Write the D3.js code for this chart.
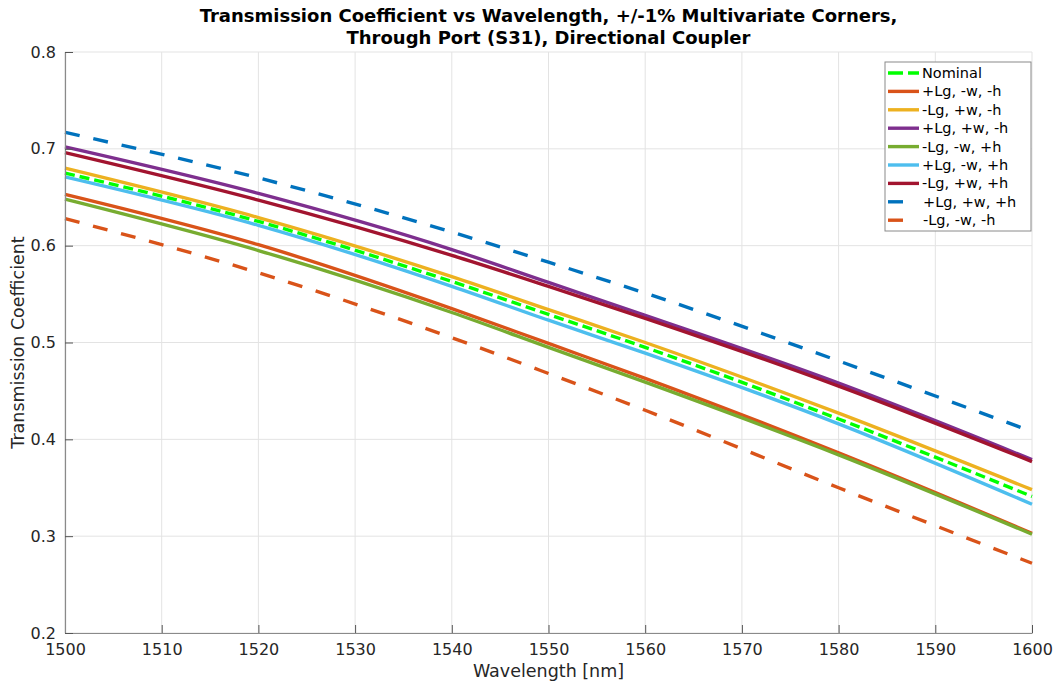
<!DOCTYPE html>
<html>
<head>
<meta charset="utf-8">
<title></title>
<script src="https://d3js.org/d3.v7.min.js"></script>
<style>
body { margin: 0; background: #fff; }
svg, svg text { font-family: "DejaVu Sans", sans-serif; }
</style>
</head>
<body>
<div id="chart"></div>
<script>
const wavelengths = [1500, 1520, 1540, 1550, 1560, 1580, 1600];
const xTicks = [1500, 1510, 1520, 1530, 1540, 1550, 1560, 1570, 1580, 1590, 1600];
const yTicks = [0.2, 0.3, 0.4, 0.5, 0.6, 0.7, 0.8];

const nominal   = [0.675, 0.625, 0.563, 0.529, 0.495, 0.421, 0.341];
const pLmWmH    = [0.653, 0.601, 0.535, 0.499, 0.463, 0.386, 0.303];
const mLpWmH    = [0.680, 0.629, 0.568, 0.534, 0.500, 0.427, 0.348];
const pLpWmH    = [0.702, 0.654, 0.596, 0.562, 0.528, 0.458, 0.379];
const mLmWpH    = [0.648, 0.595, 0.531, 0.495, 0.459, 0.384, 0.302];
const pLmWpH    = [0.671, 0.621, 0.558, 0.523, 0.489, 0.416, 0.333];
const mLpWpH    = [0.696, 0.647, 0.590, 0.558, 0.525, 0.455, 0.377];
const pLpWpH    = [0.717, 0.670, 0.614, 0.583, 0.551, 0.481, 0.408];
const mLmWmH    = [0.628, 0.572, 0.505, 0.468, 0.430, 0.350, 0.272];

const series = [
  { name: 'Nominal',       values: nominal, color: '#00ff00', dash: '10,5', short: false },
  { name: '+Lg, -w, -h',   values: pLmWmH,  color: '#D95319', dash: null,   short: false },
  { name: '-Lg, +w, -h',   values: mLpWmH,  color: '#EDB120', dash: null,   short: false },
  { name: '+Lg, +w, -h',   values: pLpWmH,  color: '#7E2F8E', dash: null,   short: false },
  { name: '-Lg, -w, +h',   values: mLmWpH,  color: '#77AC30', dash: null,   short: false },
  { name: '+Lg, -w, +h',   values: pLmWpH,  color: '#4DBEEE', dash: null,   short: false },
  { name: '-Lg, +w, +h',   values: mLpWpH,  color: '#A2142F', dash: null,   short: false },
  { name: '+Lg, +w, +h',   values: pLpWpH,  color: '#0072BD', dash: '15,14', short: true },
  { name: '-Lg, -w, -h',   values: mLmWmH,  color: '#D95319', dash: '15,14', short: true }
];

const width = 1056, height = 684;
const margin = { top: 52, right: 24, bottom: 51, left: 65 };
const innerW = width - margin.left - margin.right;
const innerH = height - margin.top - margin.bottom;

const svg = d3.select('#chart').append('svg')
  .attr('width', width)
  .attr('height', height);

const xScale = d3.scaleLinear().domain([1500, 1600]).range([0, innerW]);
const yScale = d3.scaleLinear().domain([0.2, 0.8]).range([innerH, 0]);

const g = svg.append('g').attr('transform', `translate(${margin.left},${margin.top})`);

// grid
g.append('g').selectAll('line').data(xTicks).join('line')
  .attr('x1', d => xScale(d)).attr('x2', d => xScale(d))
  .attr('y1', 0).attr('y2', innerH)
  .attr('stroke', '#e3e3e3').attr('stroke-width', 1);
g.append('g').selectAll('line').data(yTicks).join('line')
  .attr('y1', d => yScale(d)).attr('y2', d => yScale(d))
  .attr('x1', 0).attr('x2', innerW)
  .attr('stroke', '#e3e3e3').attr('stroke-width', 1);

// lines
const line = d3.line()
  .x((d, i) => xScale(wavelengths[i]))
  .y(d => yScale(d))
  .curve(d3.curveMonotoneX);

g.append('g').selectAll('path').data(series.slice(1).concat(series.slice(0, 1))).join('path')
  .attr('d', d => line(d.values))
  .attr('fill', 'none')
  .attr('stroke', d => d.color)
  .attr('stroke-width', 3.4)
  .attr('stroke-dasharray', d => d.dash);

// axes
const xAxis = g.append('g')
  .attr('transform', `translate(0,${innerH})`)
  .call(d3.axisBottom(xScale).tickValues(xTicks).tickSizeInner(-8).tickSizeOuter(0).tickPadding(8).tickFormat(d3.format('d')));
const yAxis = g.append('g')
  .call(d3.axisLeft(yScale).tickValues(yTicks).tickSizeInner(-8).tickSizeOuter(0).tickPadding(9).tickFormat(d3.format('.1f')));

[xAxis, yAxis].forEach(a => {
  a.attr('font-family', null);
  a.select('.domain').attr('stroke', '#8a8a8a').attr('stroke-width', 1.2);
  a.selectAll('.tick line').attr('stroke', '#555');
  a.selectAll('.tick text').attr('fill', '#262626').style('font-size', '16px');
});
xAxis.selectAll('.tick text').attr('dy', '0.9em');

// labels
svg.append('text')
  .attr('x', margin.left + innerW / 2).attr('y', 677)
  .attr('text-anchor', 'middle').attr('fill', '#262626')
  .style('font-size', '17.5px')
  .text('Wavelength [nm]');
svg.append('text')
  .attr('transform', `translate(24,${margin.top + innerH / 2}) rotate(-90)`)
  .attr('text-anchor', 'middle').attr('fill', '#262626')
  .style('font-size', '17.5px')
  .text('Transmission Coefficient');

const title = svg.append('text')
  .attr('text-anchor', 'middle').attr('fill', '#000')
  .style('font-size', '18px').style('font-weight', 'bold');
title.append('tspan').attr('x', margin.left + innerW / 2).attr('y', 22)
  .text('Transmission Coefficient vs Wavelength, +/-1% Multivariate Corners,');
title.append('tspan').attr('x', margin.left + innerW / 2).attr('y', 44)
  .text('Through Port (S31), Directional Coupler');

// legend
const legend = svg.append('g').attr('transform', 'translate(885,62)');
legend.append('rect')
  .attr('width', 146).attr('height', 169)
  .attr('fill', '#fff').attr('stroke', '#8a8a8a').attr('stroke-width', 1);
const rows = legend.selectAll('g.row').data(series).join('g')
  .attr('class', 'row')
  .attr('transform', (d, i) => `translate(0,${11 + i * 18.4})`);
rows.append('line')
  .attr('x1', 3).attr('x2', d => d.short ? 18 : 34)
  .attr('stroke', d => d.color).attr('stroke-width', 3.4)
  .attr('stroke-dasharray', d => d.dash && !d.short ? '15,5' : null);
rows.append('text')
  .attr('x', d => d.short ? 38 : 37).attr('dy', '0.35em')
  .attr('fill', '#000').style('font-size', '14.5px')
  .text(d => d.name);
</script>
</body>
</html>
